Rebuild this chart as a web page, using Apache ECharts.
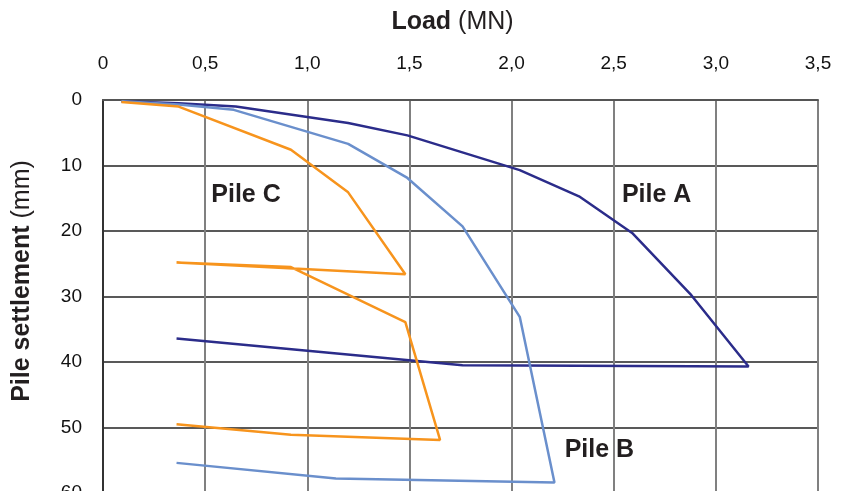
<!DOCTYPE html>
<html>
<head>
<meta charset="utf-8">
<script src="https://cdn.jsdelivr.net/npm/echarts@6/dist/echarts.min.js"></script>
<style>
  html, body { margin: 0; padding: 0; background: #fff; }
  #chart { width: 846px; height: 491px; }
</style>
</head>
<body>
<div id="chart"></div>
<script>
// load (MN), settlement (mm)
var pileA = [[0.09, 0.2], [0.37, 0.5], [0.65, 1.0], [1.2, 3.5], [1.49, 5.4], [2.04, 10.7],
             [2.33, 14.7], [2.59, 20.3], [2.88, 29.8], [3.16, 40.7], [1.76, 40.5], [0.36, 36.4]];
var pileB = [[0.09, 0.2], [0.37, 0.7], [0.64, 1.5], [1.2, 6.7], [1.49, 11.9], [1.76, 19.3],
             [2.04, 33.1], [2.21, 58.4], [1.14, 57.8], [0.36, 55.4]];
var pileC = [[0.09, 0.3], [0.37, 1.0], [0.92, 7.6], [1.2, 14.1], [1.48, 26.6], [0.36, 24.8],
             [0.92, 25.5], [1.48, 33.9], [1.65, 51.9], [0.92, 51.1], [0.36, 49.5]];
// annotation text placed in data units
var pileLabels = [['Pile A', 2.71, 14.5], ['Pile B', 2.43, 53.4], ['Pile C', 0.7, 14.5]];

var colors = ['#2b2c8a', '#6a8fcc', '#f7941d'];
var textColor = '#231f20';
var font = 'Arial, "Liberation Sans", sans-serif';

var chart = echarts.init(document.getElementById('chart'));

function lineSeries(name, data, color) {
    return {
        name: name,
        type: 'line',
        data: data,
        symbol: 'none',
        lineStyle: { color: color, width: 2.5 },
        z: 3
    };
}

var option = {
    animation: false,
    grid: { left: 103, right: 28, top: 100, height: 393, outerBoundsMode: 'none', containLabel: false },
    textStyle: { fontFamily: font },
    xAxis: {
        type: 'value',
        position: 'top',
        min: 0,
        max: 3.5,
        interval: 0.5,
        name: '{b|Load} (MN)',
        nameLocation: 'middle',
        nameGap: 65,
        nameTextStyle: {
            fontSize: 25, color: textColor, fontFamily: font, padding: [0, 16, 0, 0],
            rich: { b: { fontSize: 25, fontWeight: 'bold', color: textColor, fontFamily: font } }
        },
        axisLine: { show: true, lineStyle: { color: '#555', width: 2 } },
        axisTick: { show: false },
        axisLabel: {
            margin: 27, fontSize: 19, color: '#111', fontFamily: font,
            formatter: function (v) { return v === 0 ? '0' : v.toFixed(1).replace('.', ','); }
        },
        splitLine: { show: true, lineStyle: { color: '#808080', width: 2 } }
    },
    yAxis: {
        type: 'value',
        inverse: true,
        min: 0,
        max: 60,
        interval: 10,
        name: '{b|Pile settlement} (mm)',
        nameLocation: 'middle',
        nameGap: 68,
        nameTextStyle: {
            fontSize: 25, color: textColor, fontFamily: font, padding: [0, 0, 0, 31],
            rich: { b: { fontSize: 25, fontWeight: 'bold', color: textColor, fontFamily: font } }
        },
        axisLine: { show: true, lineStyle: { color: '#333', width: 2 } },
        axisTick: { show: false },
        axisLabel: { margin: 21, fontSize: 19, color: '#111', fontFamily: font },
        splitLine: { show: true, lineStyle: { color: '#222', width: 1.5 } }
    },
    series: [
        lineSeries('Pile A', pileA, colors[0]),
        lineSeries('Pile B', pileB, colors[1]),
        lineSeries('Pile C', pileC, colors[2]),
        {
            type: 'scatter',
            symbolSize: 0,
            silent: true,
            itemStyle: { opacity: 1 },
            data: pileLabels.map(function (p) { return { name: p[0], value: [p[1], p[2]] }; }),
            label: {
                show: true,
                position: 'inside',
                formatter: '{b}',
                fontSize: 25,
                fontWeight: 'bold',
                color: textColor,
                opacity: 1,
                fontFamily: font
            },
            z: 5
        }
    ]
};
chart.setOption(option);
</script>
</body>
</html>
